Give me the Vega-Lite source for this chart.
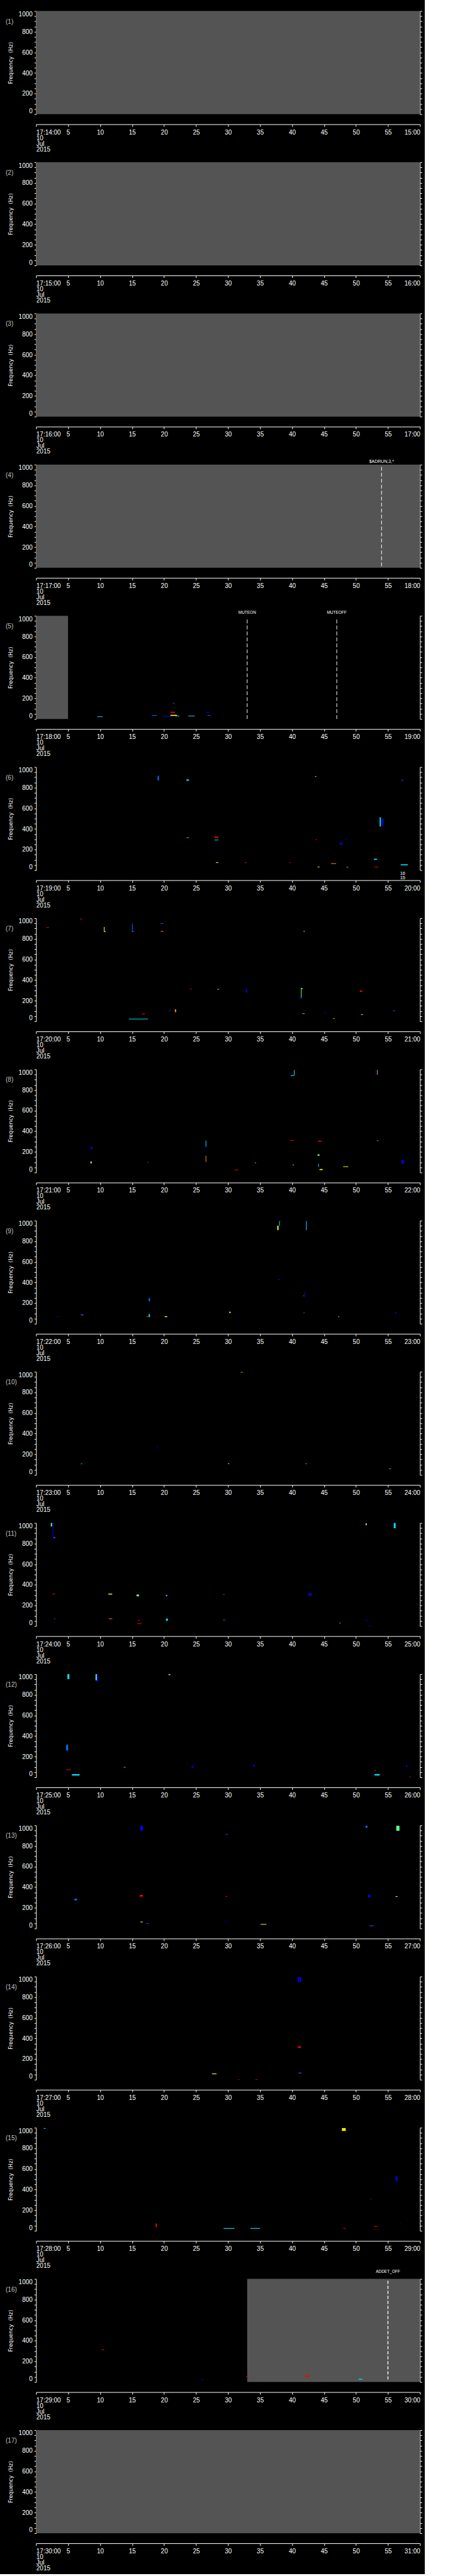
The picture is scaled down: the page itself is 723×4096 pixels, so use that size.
{
"$schema":"https://vega.github.io/schema/vega-lite/v6.json",
"padding":{"left":8.3,"top":16.6,"right":4,"bottom":4},
"background":"#000000",
"config":{"view":{"stroke":null},"font":"Liberation Sans",
 "axis":{"domainColor":"#ffffff","tickColor":"#ffffff","labelColor":"#ffffff","titleColor":"#ffffff","grid":false,"labelFont":"Liberation Sans","labelFontSize":10,"domainWidth":1,"tickWidth":1}},
"datasets":{
"gray":[{"p":1,"t0":0,"t1":60,"f0":0,"f1":1000},{"p":2,"t0":0,"t1":60,"f0":0,"f1":1000},{"p":3,"t0":0,"t1":60,"f0":0,"f1":1000},{"p":4,"t0":0,"t1":60,"f0":0,"f1":1000},{"p":5,"t0":0,"t1":5,"f0":0,"f1":1000},{"p":16,"t0":33,"t1":60,"f0":0,"f1":1000},{"p":17,"t0":0,"t1":60,"f0":0,"f1":1000}],
"events":[{"p":4,"t":54,"label":"$ADRUN,3,*"},{"p":5,"t":33,"label":"MUTEON"},{"p":5,"t":47,"label":"MUTEOFF"},{"p":16,"t":55,"label":"ADDET_OFF"}],
"notes":[{"p":6,"t":57.3,"label":"16\n15"}],
"panels":[{"p":1,"name":"(1)"},{"p":2,"name":"(2)"},{"p":3,"name":"(3)"},{"p":4,"name":"(4)"},{"p":5,"name":"(5)"},{"p":6,"name":"(6)"},{"p":7,"name":"(7)"},{"p":8,"name":"(8)"},{"p":9,"name":"(9)"},{"p":10,"name":"(10)"},{"p":11,"name":"(11)"},{"p":12,"name":"(12)"},{"p":13,"name":"(13)"},{"p":14,"name":"(14)"},{"p":15,"name":"(15)"},{"p":16,"name":"(16)"},{"p":17,"name":"(17)"}],
"specks":[
{"p":5,"t0":9.6,"t1":10.4,"f0":19,"f1":25,"v":3},{"p":5,"t0":18.1,"t1":18.9,"f0":31,"f1":37,"v":2},{"p":5,"t0":19.9,"t1":21.2,"f0":22,"f1":29,"v":1},{"p":5,"t0":21.0,"t1":22.0,"f0":30,"f1":40,"v":5},{"p":5,"t0":21.8,"t1":22.4,"f0":26,"f1":32,"v":3},{"p":5,"t0":21.0,"t1":21.7,"f0":59,"f1":70,"v":7},{"p":5,"t0":21.4,"t1":21.6,"f0":149,"f1":156,"v":2},{"p":5,"t0":23.8,"t1":24.8,"f0":26,"f1":32,"v":3},{"p":5,"t0":26.7,"t1":27.0,"f0":59,"f1":70,"v":1},{"p":5,"t0":26.8,"t1":27.3,"f0":32,"f1":37,"v":2},
{"p":6,"t0":19.0,"t1":19.2,"f0":869,"f1":915,"v":2},{"p":6,"t0":23.5,"t1":23.9,"f0":866,"f1":880,"v":3},{"p":6,"t0":43.6,"t1":43.8,"f0":905,"f1":912,"v":4},{"p":6,"t0":57.1,"t1":57.4,"f0":869,"f1":875,"v":2},{"p":6,"t0":53.7,"t1":53.9,"f0":423,"f1":512,"v":3},{"p":6,"t0":54.1,"t1":54.3,"f0":423,"f1":500,"v":1},{"p":6,"t0":23.5,"t1":23.9,"f0":312,"f1":318,"v":3},{"p":6,"t0":27.9,"t1":28.5,"f0":312,"f1":325,"v":7},{"p":6,"t0":27.9,"t1":28.5,"f0":289,"f1":295,"v":3},{"p":6,"t0":43.7,"t1":43.9,"f0":293,"f1":299,"v":7},{"p":6,"t0":48.4,"t1":48.6,"f0":293,"f1":299,"v":1},{"p":6,"t0":47.5,"t1":47.9,"f0":247,"f1":266,"v":1},{"p":6,"t0":28.1,"t1":28.5,"f0":70,"f1":76,"v":5},{"p":6,"t0":32.6,"t1":32.9,"f0":70,"f1":76,"v":7},{"p":6,"t0":39.6,"t1":39.8,"f0":70,"f1":76,"v":7},{"p":6,"t0":46.1,"t1":46.9,"f0":61,"f1":67,"v":6},{"p":6,"t0":44.0,"t1":44.3,"f0":27,"f1":33,"v":5},{"p":6,"t0":48.5,"t1":48.8,"f0":26,"f1":32,"v":3},{"p":6,"t0":52.8,"t1":53.3,"f0":100,"f1":111,"v":3},{"p":6,"t0":52.9,"t1":53.5,"f0":27,"f1":33,"v":7},{"p":6,"t0":57.0,"t1":58.1,"f0":47,"f1":57,"v":3},
{"p":7,"t0":1.6,"t1":2.0,"f0":907,"f1":913,"v":7},{"p":7,"t0":6.9,"t1":7.2,"f0":989,"f1":996,"v":7},{"p":7,"t0":10.6,"t1":10.7,"f0":869,"f1":915,"v":5},{"p":7,"t0":10.6,"t1":10.9,"f0":866,"f1":873,"v":4},{"p":7,"t0":15.0,"t1":15.1,"f0":869,"f1":948,"v":2},{"p":7,"t0":15.0,"t1":15.3,"f0":866,"f1":873,"v":2},{"p":7,"t0":19.5,"t1":19.9,"f0":945,"f1":951,"v":2},{"p":7,"t0":19.5,"t1":19.9,"f0":869,"f1":875,"v":6},{"p":7,"t0":41.8,"t1":42.0,"f0":869,"f1":875,"v":5},{"p":7,"t0":24.0,"t1":24.3,"f0":310,"f1":316,"v":7},{"p":7,"t0":28.3,"t1":28.6,"f0":307,"f1":314,"v":6},{"p":7,"t0":32.8,"t1":33.0,"f0":279,"f1":310,"v":1},{"p":7,"t0":41.4,"t1":41.5,"f0":226,"f1":318,"v":4},{"p":7,"t0":41.4,"t1":41.7,"f0":315,"f1":322,"v":5},{"p":7,"t0":41.0,"t1":41.5,"f0":222,"f1":229,"v":1},{"p":7,"t0":50.6,"t1":51.0,"f0":286,"f1":299,"v":7},{"p":7,"t0":21.7,"t1":21.9,"f0":89,"f1":117,"v":6},{"p":7,"t0":20.8,"t1":21.0,"f0":100,"f1":106,"v":2},{"p":7,"t0":16.6,"t1":17.0,"f0":69,"f1":77,"v":7},{"p":7,"t0":14.5,"t1":17.5,"f0":20,"f1":26,"v":3},{"p":7,"t0":41.6,"t1":42.0,"f0":72,"f1":78,"v":3},{"p":7,"t0":45.0,"t1":45.3,"f0":78,"f1":84,"v":1},{"p":7,"t0":50.8,"t1":51.1,"f0":63,"f1":69,"v":5},{"p":7,"t0":46.4,"t1":46.7,"f0":23,"f1":29,"v":6},{"p":7,"t0":55.8,"t1":56.1,"f0":100,"f1":106,"v":2},
{"p":8,"t0":40.3,"t1":40.4,"f0":940,"f1":995,"v":3},{"p":8,"t0":39.8,"t1":40.3,"f0":937,"f1":944,"v":3},{"p":8,"t0":53.1,"t1":53.2,"f0":947,"f1":995,"v":1},{"p":8,"t0":53.3,"t1":53.4,"f0":947,"f1":995,"v":6},{"p":8,"t0":39.7,"t1":40.3,"f0":309,"f1":315,"v":7},{"p":8,"t0":44.1,"t1":44.6,"f0":299,"f1":309,"v":7},{"p":8,"t0":53.3,"t1":53.5,"f0":306,"f1":312,"v":6},{"p":8,"t0":26.5,"t1":26.6,"f0":250,"f1":309,"v":3},{"p":8,"t0":26.5,"t1":26.8,"f0":247,"f1":253,"v":1},{"p":8,"t0":8.5,"t1":8.8,"f0":226,"f1":246,"v":1},{"p":8,"t0":44.0,"t1":44.3,"f0":162,"f1":177,"v":4},{"p":8,"t0":26.5,"t1":26.6,"f0":103,"f1":163,"v":6},{"p":8,"t0":8.5,"t1":8.7,"f0":89,"f1":107,"v":5},{"p":8,"t0":17.4,"t1":17.6,"f0":96,"f1":102,"v":2},{"p":8,"t0":34.2,"t1":34.4,"f0":91,"f1":97,"v":3},{"p":8,"t0":40.1,"t1":40.3,"f0":70,"f1":76,"v":4},{"p":8,"t0":44.1,"t1":44.2,"f0":54,"f1":86,"v":3},{"p":8,"t0":31.0,"t1":31.6,"f0":23,"f1":29,"v":7},{"p":8,"t0":44.3,"t1":44.8,"f0":24,"f1":34,"v":5},{"p":8,"t0":48.0,"t1":48.8,"f0":54,"f1":60,"v":5},{"p":8,"t0":57.1,"t1":57.5,"f0":89,"f1":120,"v":1},
{"p":9,"t0":37.7,"t1":37.9,"f0":908,"f1":950,"v":5},{"p":9,"t0":38.0,"t1":38.1,"f0":950,"f1":995,"v":3},{"p":9,"t0":38.0,"t1":38.2,"f0":990,"f1":996,"v":7},{"p":9,"t0":42.2,"t1":42.3,"f0":908,"f1":995,"v":3},{"p":9,"t0":37.8,"t1":38.1,"f0":426,"f1":432,"v":1},{"p":9,"t0":41.9,"t1":42.0,"f0":260,"f1":309,"v":1},{"p":9,"t0":41.7,"t1":41.9,"f0":268,"f1":274,"v":7},{"p":9,"t0":17.6,"t1":17.8,"f0":217,"f1":250,"v":2},{"p":9,"t0":3.2,"t1":3.6,"f0":67,"f1":72,"v":1},{"p":9,"t0":7.0,"t1":7.4,"f0":81,"f1":90,"v":2},{"p":9,"t0":17.2,"t1":17.6,"f0":64,"f1":70,"v":7},{"p":9,"t0":17.6,"t1":17.8,"f0":64,"f1":94,"v":3},{"p":9,"t0":20.1,"t1":20.5,"f0":64,"f1":73,"v":5},{"p":9,"t0":30.2,"t1":30.4,"f0":103,"f1":117,"v":5},{"p":9,"t0":41.8,"t1":42.0,"f0":103,"f1":109,"v":2},{"p":9,"t0":47.2,"t1":47.4,"f0":64,"f1":70,"v":4},{"p":9,"t0":56.1,"t1":56.3,"f0":97,"f1":111,"v":1},
{"p":10,"t0":32.0,"t1":32.3,"f0":992,"f1":998,"v":6},{"p":10,"t0":18.8,"t1":19.1,"f0":272,"f1":277,"v":1},{"p":10,"t0":7.0,"t1":7.2,"f0":104,"f1":110,"v":3},{"p":10,"t0":30.0,"t1":30.2,"f0":106,"f1":112,"v":5},{"p":10,"t0":42.1,"t1":42.3,"f0":105,"f1":111,"v":3},{"p":10,"t0":55.2,"t1":55.4,"f0":57,"f1":63,"v":4},
{"p":11,"t0":2.3,"t1":2.5,"f0":966,"f1":1000,"v":4},{"p":11,"t0":2.6,"t1":2.7,"f0":860,"f1":1000,"v":1},{"p":11,"t0":2.7,"t1":3.0,"f0":853,"f1":863,"v":2},{"p":11,"t0":51.5,"t1":51.7,"f0":978,"f1":996,"v":4},{"p":11,"t0":55.9,"t1":56.2,"f0":949,"f1":1000,"v":3},{"p":11,"t0":2.5,"t1":3.0,"f0":310,"f1":316,"v":7},{"p":11,"t0":11.3,"t1":11.9,"f0":306,"f1":315,"v":5},{"p":11,"t0":15.7,"t1":16.1,"f0":289,"f1":306,"v":4},{"p":11,"t0":20.3,"t1":20.5,"f0":289,"f1":303,"v":3},{"p":11,"t0":29.2,"t1":29.5,"f0":303,"f1":309,"v":7},{"p":11,"t0":42.6,"t1":43.1,"f0":298,"f1":318,"v":1},{"p":11,"t0":2.8,"t1":3.0,"f0":68,"f1":74,"v":2},{"p":11,"t0":11.4,"t1":11.9,"f0":68,"f1":74,"v":6},{"p":11,"t0":15.9,"t1":16.2,"f0":51,"f1":57,"v":7},{"p":11,"t0":15.8,"t1":16.5,"f0":20,"f1":26,"v":7},{"p":11,"t0":20.3,"t1":20.6,"f0":51,"f1":73,"v":3},{"p":11,"t0":29.2,"t1":29.6,"f0":55,"f1":61,"v":2},{"p":11,"t0":47.4,"t1":47.6,"f0":26,"f1":32,"v":3},{"p":11,"t0":51.5,"t1":51.8,"f0":51,"f1":57,"v":1},{"p":11,"t0":52.0,"t1":52.4,"f0":1,"f1":6,"v":1},
{"p":12,"t0":4.9,"t1":5.2,"f0":952,"f1":1000,"v":3},{"p":12,"t0":9.3,"t1":9.5,"f0":940,"f1":1000,"v":4},{"p":12,"t0":9.5,"t1":9.7,"f0":926,"f1":995,"v":1},{"p":12,"t0":20.7,"t1":21.0,"f0":991,"f1":999,"v":5},{"p":12,"t0":4.7,"t1":5.0,"f0":260,"f1":315,"v":2},{"p":12,"t0":4.7,"t1":5.4,"f0":70,"f1":76,"v":7},{"p":12,"t0":5.6,"t1":6.8,"f0":17,"f1":31,"v":3},{"p":12,"t0":13.7,"t1":14.0,"f0":94,"f1":100,"v":3},{"p":12,"t0":24.3,"t1":24.6,"f0":94,"f1":111,"v":1},{"p":12,"t0":33.9,"t1":34.2,"f0":105,"f1":122,"v":1},{"p":12,"t0":52.9,"t1":53.1,"f0":62,"f1":68,"v":2},{"p":12,"t0":52.9,"t1":53.7,"f0":17,"f1":31,"v":3},{"p":12,"t0":57.8,"t1":58.0,"f0":99,"f1":116,"v":1},{"p":12,"t0":58.3,"t1":58.6,"f0":0,"f1":4,"v":7},
{"p":13,"t0":16.3,"t1":16.7,"f0":947,"f1":996,"v":1},{"p":13,"t0":29.6,"t1":30.0,"f0":908,"f1":913,"v":2},{"p":13,"t0":51.5,"t1":51.8,"f0":976,"f1":996,"v":2},{"p":13,"t0":56.3,"t1":56.8,"f0":947,"f1":996,"v":4},{"p":13,"t0":6.0,"t1":6.4,"f0":272,"f1":289,"v":2},{"p":13,"t0":16.2,"t1":16.7,"f0":309,"f1":326,"v":7},{"p":13,"t0":29.6,"t1":29.9,"f0":308,"f1":314,"v":7},{"p":13,"t0":51.9,"t1":52.3,"f0":301,"f1":326,"v":1},{"p":13,"t0":56.2,"t1":56.5,"f0":306,"f1":313,"v":5},{"p":13,"t0":16.3,"t1":16.7,"f0":60,"f1":66,"v":5},{"p":13,"t0":17.2,"t1":17.6,"f0":46,"f1":51,"v":2},{"p":13,"t0":29.6,"t1":29.9,"f0":63,"f1":69,"v":1},{"p":13,"t0":35.1,"t1":36.0,"f0":37,"f1":43,"v":5},{"p":13,"t0":52.1,"t1":52.8,"f0":23,"f1":29,"v":2},
{"p":14,"t0":40.9,"t1":41.1,"f0":942,"f1":998,"v":1},{"p":14,"t0":41.2,"t1":41.4,"f0":942,"f1":998,"v":1},{"p":14,"t0":40.9,"t1":41.4,"f0":309,"f1":323,"v":7},{"p":14,"t0":49.9,"t1":50.0,"f0":308,"f1":314,"v":1},{"p":14,"t0":41.0,"t1":41.5,"f0":61,"f1":68,"v":2},{"p":14,"t0":27.5,"t1":28.2,"f0":53,"f1":60,"v":5},{"p":14,"t0":31.6,"t1":31.8,"f0":0,"f1":5,"v":7},{"p":14,"t0":34.3,"t1":34.6,"f0":0,"f1":5,"v":7},
{"p":15,"t0":1.2,"t1":1.5,"f0":990,"f1":996,"v":3},{"p":15,"t0":47.8,"t1":48.4,"f0":969,"f1":996,"v":5},{"p":15,"t0":56.2,"t1":56.5,"f0":483,"f1":527,"v":1},{"p":15,"t0":52.3,"t1":52.4,"f0":303,"f1":309,"v":7},{"p":15,"t0":18.7,"t1":18.9,"f0":37,"f1":71,"v":7},{"p":15,"t0":29.3,"t1":31.0,"f0":20,"f1":27,"v":3},{"p":15,"t0":33.5,"t1":35.0,"f0":20,"f1":27,"v":3},{"p":15,"t0":48.0,"t1":48.4,"f0":21,"f1":27,"v":7},{"p":15,"t0":52.8,"t1":53.4,"f0":40,"f1":46,"v":7},{"p":15,"t0":56.8,"t1":57.0,"f0":63,"f1":71,"v":1},
{"p":16,"t0":10.2,"t1":10.6,"f0":309,"f1":316,"v":7},{"p":16,"t0":25.8,"t1":26.1,"f0":20,"f1":28,"v":1},{"p":16,"t0":32.8,"t1":33.1,"f0":48,"f1":54,"v":7},{"p":16,"t0":42.0,"t1":42.8,"f0":50,"f1":63,"v":7},{"p":16,"t0":50.4,"t1":51.0,"f0":23,"f1":31,"v":3}
]},
"spacing":76.4,
"bounds":"flush",
"vconcat":[
{"width":610,"height":164,"resolve":{"axis":{"x":"independent","y":"independent"}},"layer":[
 {"data":{"name":"gray"},"transform":[{"filter":"datum.p==1"}],"mark":{"type":"rect","color":"#545454"},"encoding":{"x":{"field":"t0","type":"quantitative","scale":{"domain":[0,60],"nice":false,"zero":false},"axis":{"orient":"bottom","values":[0,5,10,15,20,25,30,35,40,45,50,55,60],"labelExpr":"datum.value==0?['17:14:00','10','Jul','2015']:datum.value==60?'15:00':datum.label","offset":16,"tickSize":3.5,"labelPadding":4,"labelLineHeight":9,"labelOverlap":false,"title":null}},"x2":{"field":"t1"},"y":{"field":"f0","type":"quantitative","scale":{"domain":[0,1000],"nice":false},"axis":{"orient":"left","values":[0,50,100,150,200,250,300,350,400,450,500,550,600,650,700,750,800,850,900,950,1000],"format":"d","labelExpr":"datum.value%200==0?datum.label:''","labelFlush":true,"labelOverlap":false,"tickSize":3,"labelPadding":3,"title":"Frequency\u00a0\u00a0(Hz)","titleFont":"DejaVu Sans","titleFontSize":8.5,"titleFontWeight":"normal","titleX":-40.4,"titleY":82,"titleAngle":-90,"titleAlign":"center","titleBaseline":"middle"}},"y2":{"field":"f1"}}},
 {"data":{"name":"specks"},"transform":[{"filter":"datum.p==1"}],"mark":{"type":"rect"},"encoding":{"x":{"field":"t0","type":"quantitative","axis":null},"x2":{"field":"t1"},"y":{"field":"f0","type":"quantitative","axis":{"orient":"right","values":[0,50,100,150,200,250,300,350,400,450,500,550,600,650,700,750,800,850,900,950,1000],"labels":false,"tickSize":3,"title":null}},"y2":{"field":"f1"},"color":{"field":"v","type":"ordinal","scale":{"domain":[1,2,3,4,5,6,7],"range":["#0000ff","#0070ff","#00e0ff","#60ff90","#ffff00","#ff9000","#ff0000"]},"legend":null}}},
 {"data":{"name":"panels"},"transform":[{"filter":"datum.p==1"}],"mark":{"type":"text","align":"left","baseline":"middle","fontSize":10,"color":"#c0c0c0"},"encoding":{"x":{"datum":-4.75,"type":"quantitative","axis":null},"y":{"datum":896,"type":"quantitative","axis":null},"text":{"field":"name"}}}
]},
{"width":610,"height":164,"resolve":{"axis":{"x":"independent","y":"independent"}},"layer":[
 {"data":{"name":"gray"},"transform":[{"filter":"datum.p==2"}],"mark":{"type":"rect","color":"#545454"},"encoding":{"x":{"field":"t0","type":"quantitative","scale":{"domain":[0,60],"nice":false,"zero":false},"axis":{"orient":"bottom","values":[0,5,10,15,20,25,30,35,40,45,50,55,60],"labelExpr":"datum.value==0?['17:15:00','10','Jul','2015']:datum.value==60?'16:00':datum.label","offset":16,"tickSize":3.5,"labelPadding":4,"labelLineHeight":9,"labelOverlap":false,"title":null}},"x2":{"field":"t1"},"y":{"field":"f0","type":"quantitative","scale":{"domain":[0,1000],"nice":false},"axis":{"orient":"left","values":[0,50,100,150,200,250,300,350,400,450,500,550,600,650,700,750,800,850,900,950,1000],"format":"d","labelExpr":"datum.value%200==0?datum.label:''","labelFlush":true,"labelOverlap":false,"tickSize":3,"labelPadding":3,"title":"Frequency\u00a0\u00a0(Hz)","titleFont":"DejaVu Sans","titleFontSize":8.5,"titleFontWeight":"normal","titleX":-40.4,"titleY":82,"titleAngle":-90,"titleAlign":"center","titleBaseline":"middle"}},"y2":{"field":"f1"}}},
 {"data":{"name":"specks"},"transform":[{"filter":"datum.p==2"}],"mark":{"type":"rect"},"encoding":{"x":{"field":"t0","type":"quantitative","axis":null},"x2":{"field":"t1"},"y":{"field":"f0","type":"quantitative","axis":{"orient":"right","values":[0,50,100,150,200,250,300,350,400,450,500,550,600,650,700,750,800,850,900,950,1000],"labels":false,"tickSize":3,"title":null}},"y2":{"field":"f1"},"color":{"field":"v","type":"ordinal","scale":{"domain":[1,2,3,4,5,6,7],"range":["#0000ff","#0070ff","#00e0ff","#60ff90","#ffff00","#ff9000","#ff0000"]},"legend":null}}},
 {"data":{"name":"panels"},"transform":[{"filter":"datum.p==2"}],"mark":{"type":"text","align":"left","baseline":"middle","fontSize":10,"color":"#c0c0c0"},"encoding":{"x":{"datum":-4.75,"type":"quantitative","axis":null},"y":{"datum":896,"type":"quantitative","axis":null},"text":{"field":"name"}}}
]},
{"width":610,"height":164,"resolve":{"axis":{"x":"independent","y":"independent"}},"layer":[
 {"data":{"name":"gray"},"transform":[{"filter":"datum.p==3"}],"mark":{"type":"rect","color":"#545454"},"encoding":{"x":{"field":"t0","type":"quantitative","scale":{"domain":[0,60],"nice":false,"zero":false},"axis":{"orient":"bottom","values":[0,5,10,15,20,25,30,35,40,45,50,55,60],"labelExpr":"datum.value==0?['17:16:00','10','Jul','2015']:datum.value==60?'17:00':datum.label","offset":16,"tickSize":3.5,"labelPadding":4,"labelLineHeight":9,"labelOverlap":false,"title":null}},"x2":{"field":"t1"},"y":{"field":"f0","type":"quantitative","scale":{"domain":[0,1000],"nice":false},"axis":{"orient":"left","values":[0,50,100,150,200,250,300,350,400,450,500,550,600,650,700,750,800,850,900,950,1000],"format":"d","labelExpr":"datum.value%200==0?datum.label:''","labelFlush":true,"labelOverlap":false,"tickSize":3,"labelPadding":3,"title":"Frequency\u00a0\u00a0(Hz)","titleFont":"DejaVu Sans","titleFontSize":8.5,"titleFontWeight":"normal","titleX":-40.4,"titleY":82,"titleAngle":-90,"titleAlign":"center","titleBaseline":"middle"}},"y2":{"field":"f1"}}},
 {"data":{"name":"specks"},"transform":[{"filter":"datum.p==3"}],"mark":{"type":"rect"},"encoding":{"x":{"field":"t0","type":"quantitative","axis":null},"x2":{"field":"t1"},"y":{"field":"f0","type":"quantitative","axis":{"orient":"right","values":[0,50,100,150,200,250,300,350,400,450,500,550,600,650,700,750,800,850,900,950,1000],"labels":false,"tickSize":3,"title":null}},"y2":{"field":"f1"},"color":{"field":"v","type":"ordinal","scale":{"domain":[1,2,3,4,5,6,7],"range":["#0000ff","#0070ff","#00e0ff","#60ff90","#ffff00","#ff9000","#ff0000"]},"legend":null}}},
 {"data":{"name":"panels"},"transform":[{"filter":"datum.p==3"}],"mark":{"type":"text","align":"left","baseline":"middle","fontSize":10,"color":"#c0c0c0"},"encoding":{"x":{"datum":-4.75,"type":"quantitative","axis":null},"y":{"datum":896,"type":"quantitative","axis":null},"text":{"field":"name"}}}
]},
{"width":610,"height":164,"resolve":{"axis":{"x":"independent","y":"independent"}},"layer":[
 {"data":{"name":"gray"},"transform":[{"filter":"datum.p==4"}],"mark":{"type":"rect","color":"#545454"},"encoding":{"x":{"field":"t0","type":"quantitative","scale":{"domain":[0,60],"nice":false,"zero":false},"axis":{"orient":"bottom","values":[0,5,10,15,20,25,30,35,40,45,50,55,60],"labelExpr":"datum.value==0?['17:17:00','10','Jul','2015']:datum.value==60?'18:00':datum.label","offset":16,"tickSize":3.5,"labelPadding":4,"labelLineHeight":9,"labelOverlap":false,"title":null}},"x2":{"field":"t1"},"y":{"field":"f0","type":"quantitative","scale":{"domain":[0,1000],"nice":false},"axis":{"orient":"left","values":[0,50,100,150,200,250,300,350,400,450,500,550,600,650,700,750,800,850,900,950,1000],"format":"d","labelExpr":"datum.value%200==0?datum.label:''","labelFlush":true,"labelOverlap":false,"tickSize":3,"labelPadding":3,"title":"Frequency\u00a0\u00a0(Hz)","titleFont":"DejaVu Sans","titleFontSize":8.5,"titleFontWeight":"normal","titleX":-40.4,"titleY":82,"titleAngle":-90,"titleAlign":"center","titleBaseline":"middle"}},"y2":{"field":"f1"}}},
 {"data":{"name":"specks"},"transform":[{"filter":"datum.p==4"}],"mark":{"type":"rect"},"encoding":{"x":{"field":"t0","type":"quantitative","axis":null},"x2":{"field":"t1"},"y":{"field":"f0","type":"quantitative","axis":{"orient":"right","values":[0,50,100,150,200,250,300,350,400,450,500,550,600,650,700,750,800,850,900,950,1000],"labels":false,"tickSize":3,"title":null}},"y2":{"field":"f1"},"color":{"field":"v","type":"ordinal","scale":{"domain":[1,2,3,4,5,6,7],"range":["#0000ff","#0070ff","#00e0ff","#60ff90","#ffff00","#ff9000","#ff0000"]},"legend":null}}},
 {"data":{"name":"events"},"transform":[{"filter":"datum.p==4"}],"mark":{"type":"rule","color":"#ffffff","strokeDash":[6,3.5],"strokeWidth":1},"encoding":{"x":{"field":"t","type":"quantitative","axis":null},"y":{"datum":15,"type":"quantitative","axis":null},"y2":{"datum":1000}}},
 {"data":{"name":"events"},"transform":[{"filter":"datum.p==4"}],"mark":{"type":"text","color":"#ffffff","fontSize":7,"baseline":"alphabetic","dy":-3},"encoding":{"x":{"field":"t","type":"quantitative","axis":null},"y":{"datum":1000,"type":"quantitative","axis":null},"text":{"field":"label"}}},
 {"data":{"name":"panels"},"transform":[{"filter":"datum.p==4"}],"mark":{"type":"text","align":"left","baseline":"middle","fontSize":10,"color":"#c0c0c0"},"encoding":{"x":{"datum":-4.75,"type":"quantitative","axis":null},"y":{"datum":896,"type":"quantitative","axis":null},"text":{"field":"name"}}}
]},
{"width":610,"height":164,"resolve":{"axis":{"x":"independent","y":"independent"}},"layer":[
 {"data":{"name":"gray"},"transform":[{"filter":"datum.p==5"}],"mark":{"type":"rect","color":"#545454"},"encoding":{"x":{"field":"t0","type":"quantitative","scale":{"domain":[0,60],"nice":false,"zero":false},"axis":{"orient":"bottom","values":[0,5,10,15,20,25,30,35,40,45,50,55,60],"labelExpr":"datum.value==0?['17:18:00','10','Jul','2015']:datum.value==60?'19:00':datum.label","offset":16,"tickSize":3.5,"labelPadding":4,"labelLineHeight":9,"labelOverlap":false,"title":null}},"x2":{"field":"t1"},"y":{"field":"f0","type":"quantitative","scale":{"domain":[0,1000],"nice":false},"axis":{"orient":"left","values":[0,50,100,150,200,250,300,350,400,450,500,550,600,650,700,750,800,850,900,950,1000],"format":"d","labelExpr":"datum.value%200==0?datum.label:''","labelFlush":true,"labelOverlap":false,"tickSize":3,"labelPadding":3,"title":"Frequency\u00a0\u00a0(Hz)","titleFont":"DejaVu Sans","titleFontSize":8.5,"titleFontWeight":"normal","titleX":-40.4,"titleY":82,"titleAngle":-90,"titleAlign":"center","titleBaseline":"middle"}},"y2":{"field":"f1"}}},
 {"data":{"name":"specks"},"transform":[{"filter":"datum.p==5"}],"mark":{"type":"rect"},"encoding":{"x":{"field":"t0","type":"quantitative","axis":null},"x2":{"field":"t1"},"y":{"field":"f0","type":"quantitative","axis":{"orient":"right","values":[0,50,100,150,200,250,300,350,400,450,500,550,600,650,700,750,800,850,900,950,1000],"labels":false,"tickSize":3,"title":null}},"y2":{"field":"f1"},"color":{"field":"v","type":"ordinal","scale":{"domain":[1,2,3,4,5,6,7],"range":["#0000ff","#0070ff","#00e0ff","#60ff90","#ffff00","#ff9000","#ff0000"]},"legend":null}}},
 {"data":{"name":"events"},"transform":[{"filter":"datum.p==5"}],"mark":{"type":"rule","color":"#ffffff","strokeDash":[6,3.5],"strokeWidth":1},"encoding":{"x":{"field":"t","type":"quantitative","axis":null},"y":{"datum":0,"type":"quantitative","axis":null},"y2":{"datum":980}}},
 {"data":{"name":"events"},"transform":[{"filter":"datum.p==5"}],"mark":{"type":"text","color":"#ffffff","fontSize":6.5,"baseline":"alphabetic","dy":-3.3},"encoding":{"x":{"field":"t","type":"quantitative","axis":null},"y":{"datum":1000,"type":"quantitative","axis":null},"text":{"field":"label"}}},
 {"data":{"name":"panels"},"transform":[{"filter":"datum.p==5"}],"mark":{"type":"text","align":"left","baseline":"middle","fontSize":10,"color":"#c0c0c0"},"encoding":{"x":{"datum":-4.75,"type":"quantitative","axis":null},"y":{"datum":896,"type":"quantitative","axis":null},"text":{"field":"name"}}}
]},
{"width":610,"height":164,"resolve":{"axis":{"x":"independent","y":"independent"}},"layer":[
 {"data":{"name":"gray"},"transform":[{"filter":"datum.p==6"}],"mark":{"type":"rect","color":"#545454"},"encoding":{"x":{"field":"t0","type":"quantitative","scale":{"domain":[0,60],"nice":false,"zero":false},"axis":{"orient":"bottom","values":[0,5,10,15,20,25,30,35,40,45,50,55,60],"labelExpr":"datum.value==0?['17:19:00','10','Jul','2015']:datum.value==60?'20:00':datum.label","offset":16,"tickSize":3.5,"labelPadding":4,"labelLineHeight":9,"labelOverlap":false,"title":null}},"x2":{"field":"t1"},"y":{"field":"f0","type":"quantitative","scale":{"domain":[0,1000],"nice":false},"axis":{"orient":"left","values":[0,50,100,150,200,250,300,350,400,450,500,550,600,650,700,750,800,850,900,950,1000],"format":"d","labelExpr":"datum.value%200==0?datum.label:''","labelFlush":true,"labelOverlap":false,"tickSize":3,"labelPadding":3,"title":"Frequency\u00a0\u00a0(Hz)","titleFont":"DejaVu Sans","titleFontSize":8.5,"titleFontWeight":"normal","titleX":-40.4,"titleY":82,"titleAngle":-90,"titleAlign":"center","titleBaseline":"middle"}},"y2":{"field":"f1"}}},
 {"data":{"name":"specks"},"transform":[{"filter":"datum.p==6"}],"mark":{"type":"rect"},"encoding":{"x":{"field":"t0","type":"quantitative","axis":null},"x2":{"field":"t1"},"y":{"field":"f0","type":"quantitative","axis":{"orient":"right","values":[0,50,100,150,200,250,300,350,400,450,500,550,600,650,700,750,800,850,900,950,1000],"labels":false,"tickSize":3,"title":null}},"y2":{"field":"f1"},"color":{"field":"v","type":"ordinal","scale":{"domain":[1,2,3,4,5,6,7],"range":["#0000ff","#0070ff","#00e0ff","#60ff90","#ffff00","#ff9000","#ff0000"]},"legend":null}}},
 {"data":{"name":"notes"},"transform":[{"filter":"datum.p==6"}],"mark":{"type":"text","color":"#ffffff","fontSize":7.5,"lineHeight":7,"lineBreak":"\n","align":"center","baseline":"top","dy":1},"encoding":{"x":{"field":"t","type":"quantitative","axis":null},"y":{"datum":0,"type":"quantitative","axis":null},"text":{"field":"label"}}},
 {"data":{"name":"panels"},"transform":[{"filter":"datum.p==6"}],"mark":{"type":"text","align":"left","baseline":"middle","fontSize":10,"color":"#c0c0c0"},"encoding":{"x":{"datum":-4.75,"type":"quantitative","axis":null},"y":{"datum":896,"type":"quantitative","axis":null},"text":{"field":"name"}}}
]},
{"width":610,"height":164,"resolve":{"axis":{"x":"independent","y":"independent"}},"layer":[
 {"data":{"name":"gray"},"transform":[{"filter":"datum.p==7"}],"mark":{"type":"rect","color":"#545454"},"encoding":{"x":{"field":"t0","type":"quantitative","scale":{"domain":[0,60],"nice":false,"zero":false},"axis":{"orient":"bottom","values":[0,5,10,15,20,25,30,35,40,45,50,55,60],"labelExpr":"datum.value==0?['17:20:00','10','Jul','2015']:datum.value==60?'21:00':datum.label","offset":16,"tickSize":3.5,"labelPadding":4,"labelLineHeight":9,"labelOverlap":false,"title":null}},"x2":{"field":"t1"},"y":{"field":"f0","type":"quantitative","scale":{"domain":[0,1000],"nice":false},"axis":{"orient":"left","values":[0,50,100,150,200,250,300,350,400,450,500,550,600,650,700,750,800,850,900,950,1000],"format":"d","labelExpr":"datum.value%200==0?datum.label:''","labelFlush":true,"labelOverlap":false,"tickSize":3,"labelPadding":3,"title":"Frequency\u00a0\u00a0(Hz)","titleFont":"DejaVu Sans","titleFontSize":8.5,"titleFontWeight":"normal","titleX":-40.4,"titleY":82,"titleAngle":-90,"titleAlign":"center","titleBaseline":"middle"}},"y2":{"field":"f1"}}},
 {"data":{"name":"specks"},"transform":[{"filter":"datum.p==7"}],"mark":{"type":"rect"},"encoding":{"x":{"field":"t0","type":"quantitative","axis":null},"x2":{"field":"t1"},"y":{"field":"f0","type":"quantitative","axis":{"orient":"right","values":[0,50,100,150,200,250,300,350,400,450,500,550,600,650,700,750,800,850,900,950,1000],"labels":false,"tickSize":3,"title":null}},"y2":{"field":"f1"},"color":{"field":"v","type":"ordinal","scale":{"domain":[1,2,3,4,5,6,7],"range":["#0000ff","#0070ff","#00e0ff","#60ff90","#ffff00","#ff9000","#ff0000"]},"legend":null}}},
 {"data":{"name":"panels"},"transform":[{"filter":"datum.p==7"}],"mark":{"type":"text","align":"left","baseline":"middle","fontSize":10,"color":"#c0c0c0"},"encoding":{"x":{"datum":-4.75,"type":"quantitative","axis":null},"y":{"datum":896,"type":"quantitative","axis":null},"text":{"field":"name"}}}
]},
{"width":610,"height":164,"resolve":{"axis":{"x":"independent","y":"independent"}},"layer":[
 {"data":{"name":"gray"},"transform":[{"filter":"datum.p==8"}],"mark":{"type":"rect","color":"#545454"},"encoding":{"x":{"field":"t0","type":"quantitative","scale":{"domain":[0,60],"nice":false,"zero":false},"axis":{"orient":"bottom","values":[0,5,10,15,20,25,30,35,40,45,50,55,60],"labelExpr":"datum.value==0?['17:21:00','10','Jul','2015']:datum.value==60?'22:00':datum.label","offset":16,"tickSize":3.5,"labelPadding":4,"labelLineHeight":9,"labelOverlap":false,"title":null}},"x2":{"field":"t1"},"y":{"field":"f0","type":"quantitative","scale":{"domain":[0,1000],"nice":false},"axis":{"orient":"left","values":[0,50,100,150,200,250,300,350,400,450,500,550,600,650,700,750,800,850,900,950,1000],"format":"d","labelExpr":"datum.value%200==0?datum.label:''","labelFlush":true,"labelOverlap":false,"tickSize":3,"labelPadding":3,"title":"Frequency\u00a0\u00a0(Hz)","titleFont":"DejaVu Sans","titleFontSize":8.5,"titleFontWeight":"normal","titleX":-40.4,"titleY":82,"titleAngle":-90,"titleAlign":"center","titleBaseline":"middle"}},"y2":{"field":"f1"}}},
 {"data":{"name":"specks"},"transform":[{"filter":"datum.p==8"}],"mark":{"type":"rect"},"encoding":{"x":{"field":"t0","type":"quantitative","axis":null},"x2":{"field":"t1"},"y":{"field":"f0","type":"quantitative","axis":{"orient":"right","values":[0,50,100,150,200,250,300,350,400,450,500,550,600,650,700,750,800,850,900,950,1000],"labels":false,"tickSize":3,"title":null}},"y2":{"field":"f1"},"color":{"field":"v","type":"ordinal","scale":{"domain":[1,2,3,4,5,6,7],"range":["#0000ff","#0070ff","#00e0ff","#60ff90","#ffff00","#ff9000","#ff0000"]},"legend":null}}},
 {"data":{"name":"panels"},"transform":[{"filter":"datum.p==8"}],"mark":{"type":"text","align":"left","baseline":"middle","fontSize":10,"color":"#c0c0c0"},"encoding":{"x":{"datum":-4.75,"type":"quantitative","axis":null},"y":{"datum":896,"type":"quantitative","axis":null},"text":{"field":"name"}}}
]},
{"width":610,"height":164,"resolve":{"axis":{"x":"independent","y":"independent"}},"layer":[
 {"data":{"name":"gray"},"transform":[{"filter":"datum.p==9"}],"mark":{"type":"rect","color":"#545454"},"encoding":{"x":{"field":"t0","type":"quantitative","scale":{"domain":[0,60],"nice":false,"zero":false},"axis":{"orient":"bottom","values":[0,5,10,15,20,25,30,35,40,45,50,55,60],"labelExpr":"datum.value==0?['17:22:00','10','Jul','2015']:datum.value==60?'23:00':datum.label","offset":16,"tickSize":3.5,"labelPadding":4,"labelLineHeight":9,"labelOverlap":false,"title":null}},"x2":{"field":"t1"},"y":{"field":"f0","type":"quantitative","scale":{"domain":[0,1000],"nice":false},"axis":{"orient":"left","values":[0,50,100,150,200,250,300,350,400,450,500,550,600,650,700,750,800,850,900,950,1000],"format":"d","labelExpr":"datum.value%200==0?datum.label:''","labelFlush":true,"labelOverlap":false,"tickSize":3,"labelPadding":3,"title":"Frequency\u00a0\u00a0(Hz)","titleFont":"DejaVu Sans","titleFontSize":8.5,"titleFontWeight":"normal","titleX":-40.4,"titleY":82,"titleAngle":-90,"titleAlign":"center","titleBaseline":"middle"}},"y2":{"field":"f1"}}},
 {"data":{"name":"specks"},"transform":[{"filter":"datum.p==9"}],"mark":{"type":"rect"},"encoding":{"x":{"field":"t0","type":"quantitative","axis":null},"x2":{"field":"t1"},"y":{"field":"f0","type":"quantitative","axis":{"orient":"right","values":[0,50,100,150,200,250,300,350,400,450,500,550,600,650,700,750,800,850,900,950,1000],"labels":false,"tickSize":3,"title":null}},"y2":{"field":"f1"},"color":{"field":"v","type":"ordinal","scale":{"domain":[1,2,3,4,5,6,7],"range":["#0000ff","#0070ff","#00e0ff","#60ff90","#ffff00","#ff9000","#ff0000"]},"legend":null}}},
 {"data":{"name":"panels"},"transform":[{"filter":"datum.p==9"}],"mark":{"type":"text","align":"left","baseline":"middle","fontSize":10,"color":"#c0c0c0"},"encoding":{"x":{"datum":-4.75,"type":"quantitative","axis":null},"y":{"datum":896,"type":"quantitative","axis":null},"text":{"field":"name"}}}
]},
{"width":610,"height":164,"resolve":{"axis":{"x":"independent","y":"independent"}},"layer":[
 {"data":{"name":"gray"},"transform":[{"filter":"datum.p==10"}],"mark":{"type":"rect","color":"#545454"},"encoding":{"x":{"field":"t0","type":"quantitative","scale":{"domain":[0,60],"nice":false,"zero":false},"axis":{"orient":"bottom","values":[0,5,10,15,20,25,30,35,40,45,50,55,60],"labelExpr":"datum.value==0?['17:23:00','10','Jul','2015']:datum.value==60?'24:00':datum.label","offset":16,"tickSize":3.5,"labelPadding":4,"labelLineHeight":9,"labelOverlap":false,"title":null}},"x2":{"field":"t1"},"y":{"field":"f0","type":"quantitative","scale":{"domain":[0,1000],"nice":false},"axis":{"orient":"left","values":[0,50,100,150,200,250,300,350,400,450,500,550,600,650,700,750,800,850,900,950,1000],"format":"d","labelExpr":"datum.value%200==0?datum.label:''","labelFlush":true,"labelOverlap":false,"tickSize":3,"labelPadding":3,"title":"Frequency\u00a0\u00a0(Hz)","titleFont":"DejaVu Sans","titleFontSize":8.5,"titleFontWeight":"normal","titleX":-40.4,"titleY":82,"titleAngle":-90,"titleAlign":"center","titleBaseline":"middle"}},"y2":{"field":"f1"}}},
 {"data":{"name":"specks"},"transform":[{"filter":"datum.p==10"}],"mark":{"type":"rect"},"encoding":{"x":{"field":"t0","type":"quantitative","axis":null},"x2":{"field":"t1"},"y":{"field":"f0","type":"quantitative","axis":{"orient":"right","values":[0,50,100,150,200,250,300,350,400,450,500,550,600,650,700,750,800,850,900,950,1000],"labels":false,"tickSize":3,"title":null}},"y2":{"field":"f1"},"color":{"field":"v","type":"ordinal","scale":{"domain":[1,2,3,4,5,6,7],"range":["#0000ff","#0070ff","#00e0ff","#60ff90","#ffff00","#ff9000","#ff0000"]},"legend":null}}},
 {"data":{"name":"panels"},"transform":[{"filter":"datum.p==10"}],"mark":{"type":"text","align":"left","baseline":"middle","fontSize":10,"color":"#c0c0c0"},"encoding":{"x":{"datum":-4.75,"type":"quantitative","axis":null},"y":{"datum":896,"type":"quantitative","axis":null},"text":{"field":"name"}}}
]},
{"width":610,"height":164,"resolve":{"axis":{"x":"independent","y":"independent"}},"layer":[
 {"data":{"name":"gray"},"transform":[{"filter":"datum.p==11"}],"mark":{"type":"rect","color":"#545454"},"encoding":{"x":{"field":"t0","type":"quantitative","scale":{"domain":[0,60],"nice":false,"zero":false},"axis":{"orient":"bottom","values":[0,5,10,15,20,25,30,35,40,45,50,55,60],"labelExpr":"datum.value==0?['17:24:00','10','Jul','2015']:datum.value==60?'25:00':datum.label","offset":16,"tickSize":3.5,"labelPadding":4,"labelLineHeight":9,"labelOverlap":false,"title":null}},"x2":{"field":"t1"},"y":{"field":"f0","type":"quantitative","scale":{"domain":[0,1000],"nice":false},"axis":{"orient":"left","values":[0,50,100,150,200,250,300,350,400,450,500,550,600,650,700,750,800,850,900,950,1000],"format":"d","labelExpr":"datum.value%200==0?datum.label:''","labelFlush":true,"labelOverlap":false,"tickSize":3,"labelPadding":3,"title":"Frequency\u00a0\u00a0(Hz)","titleFont":"DejaVu Sans","titleFontSize":8.5,"titleFontWeight":"normal","titleX":-40.4,"titleY":82,"titleAngle":-90,"titleAlign":"center","titleBaseline":"middle"}},"y2":{"field":"f1"}}},
 {"data":{"name":"specks"},"transform":[{"filter":"datum.p==11"}],"mark":{"type":"rect"},"encoding":{"x":{"field":"t0","type":"quantitative","axis":null},"x2":{"field":"t1"},"y":{"field":"f0","type":"quantitative","axis":{"orient":"right","values":[0,50,100,150,200,250,300,350,400,450,500,550,600,650,700,750,800,850,900,950,1000],"labels":false,"tickSize":3,"title":null}},"y2":{"field":"f1"},"color":{"field":"v","type":"ordinal","scale":{"domain":[1,2,3,4,5,6,7],"range":["#0000ff","#0070ff","#00e0ff","#60ff90","#ffff00","#ff9000","#ff0000"]},"legend":null}}},
 {"data":{"name":"panels"},"transform":[{"filter":"datum.p==11"}],"mark":{"type":"text","align":"left","baseline":"middle","fontSize":10,"color":"#c0c0c0"},"encoding":{"x":{"datum":-4.75,"type":"quantitative","axis":null},"y":{"datum":896,"type":"quantitative","axis":null},"text":{"field":"name"}}}
]},
{"width":610,"height":164,"resolve":{"axis":{"x":"independent","y":"independent"}},"layer":[
 {"data":{"name":"gray"},"transform":[{"filter":"datum.p==12"}],"mark":{"type":"rect","color":"#545454"},"encoding":{"x":{"field":"t0","type":"quantitative","scale":{"domain":[0,60],"nice":false,"zero":false},"axis":{"orient":"bottom","values":[0,5,10,15,20,25,30,35,40,45,50,55,60],"labelExpr":"datum.value==0?['17:25:00','10','Jul','2015']:datum.value==60?'26:00':datum.label","offset":16,"tickSize":3.5,"labelPadding":4,"labelLineHeight":9,"labelOverlap":false,"title":null}},"x2":{"field":"t1"},"y":{"field":"f0","type":"quantitative","scale":{"domain":[0,1000],"nice":false},"axis":{"orient":"left","values":[0,50,100,150,200,250,300,350,400,450,500,550,600,650,700,750,800,850,900,950,1000],"format":"d","labelExpr":"datum.value%200==0?datum.label:''","labelFlush":true,"labelOverlap":false,"tickSize":3,"labelPadding":3,"title":"Frequency\u00a0\u00a0(Hz)","titleFont":"DejaVu Sans","titleFontSize":8.5,"titleFontWeight":"normal","titleX":-40.4,"titleY":82,"titleAngle":-90,"titleAlign":"center","titleBaseline":"middle"}},"y2":{"field":"f1"}}},
 {"data":{"name":"specks"},"transform":[{"filter":"datum.p==12"}],"mark":{"type":"rect"},"encoding":{"x":{"field":"t0","type":"quantitative","axis":null},"x2":{"field":"t1"},"y":{"field":"f0","type":"quantitative","axis":{"orient":"right","values":[0,50,100,150,200,250,300,350,400,450,500,550,600,650,700,750,800,850,900,950,1000],"labels":false,"tickSize":3,"title":null}},"y2":{"field":"f1"},"color":{"field":"v","type":"ordinal","scale":{"domain":[1,2,3,4,5,6,7],"range":["#0000ff","#0070ff","#00e0ff","#60ff90","#ffff00","#ff9000","#ff0000"]},"legend":null}}},
 {"data":{"name":"panels"},"transform":[{"filter":"datum.p==12"}],"mark":{"type":"text","align":"left","baseline":"middle","fontSize":10,"color":"#c0c0c0"},"encoding":{"x":{"datum":-4.75,"type":"quantitative","axis":null},"y":{"datum":896,"type":"quantitative","axis":null},"text":{"field":"name"}}}
]},
{"width":610,"height":164,"resolve":{"axis":{"x":"independent","y":"independent"}},"layer":[
 {"data":{"name":"gray"},"transform":[{"filter":"datum.p==13"}],"mark":{"type":"rect","color":"#545454"},"encoding":{"x":{"field":"t0","type":"quantitative","scale":{"domain":[0,60],"nice":false,"zero":false},"axis":{"orient":"bottom","values":[0,5,10,15,20,25,30,35,40,45,50,55,60],"labelExpr":"datum.value==0?['17:26:00','10','Jul','2015']:datum.value==60?'27:00':datum.label","offset":16,"tickSize":3.5,"labelPadding":4,"labelLineHeight":9,"labelOverlap":false,"title":null}},"x2":{"field":"t1"},"y":{"field":"f0","type":"quantitative","scale":{"domain":[0,1000],"nice":false},"axis":{"orient":"left","values":[0,50,100,150,200,250,300,350,400,450,500,550,600,650,700,750,800,850,900,950,1000],"format":"d","labelExpr":"datum.value%200==0?datum.label:''","labelFlush":true,"labelOverlap":false,"tickSize":3,"labelPadding":3,"title":"Frequency\u00a0\u00a0(Hz)","titleFont":"DejaVu Sans","titleFontSize":8.5,"titleFontWeight":"normal","titleX":-40.4,"titleY":82,"titleAngle":-90,"titleAlign":"center","titleBaseline":"middle"}},"y2":{"field":"f1"}}},
 {"data":{"name":"specks"},"transform":[{"filter":"datum.p==13"}],"mark":{"type":"rect"},"encoding":{"x":{"field":"t0","type":"quantitative","axis":null},"x2":{"field":"t1"},"y":{"field":"f0","type":"quantitative","axis":{"orient":"right","values":[0,50,100,150,200,250,300,350,400,450,500,550,600,650,700,750,800,850,900,950,1000],"labels":false,"tickSize":3,"title":null}},"y2":{"field":"f1"},"color":{"field":"v","type":"ordinal","scale":{"domain":[1,2,3,4,5,6,7],"range":["#0000ff","#0070ff","#00e0ff","#60ff90","#ffff00","#ff9000","#ff0000"]},"legend":null}}},
 {"data":{"name":"panels"},"transform":[{"filter":"datum.p==13"}],"mark":{"type":"text","align":"left","baseline":"middle","fontSize":10,"color":"#c0c0c0"},"encoding":{"x":{"datum":-4.75,"type":"quantitative","axis":null},"y":{"datum":896,"type":"quantitative","axis":null},"text":{"field":"name"}}}
]},
{"width":610,"height":164,"resolve":{"axis":{"x":"independent","y":"independent"}},"layer":[
 {"data":{"name":"gray"},"transform":[{"filter":"datum.p==14"}],"mark":{"type":"rect","color":"#545454"},"encoding":{"x":{"field":"t0","type":"quantitative","scale":{"domain":[0,60],"nice":false,"zero":false},"axis":{"orient":"bottom","values":[0,5,10,15,20,25,30,35,40,45,50,55,60],"labelExpr":"datum.value==0?['17:27:00','10','Jul','2015']:datum.value==60?'28:00':datum.label","offset":16,"tickSize":3.5,"labelPadding":4,"labelLineHeight":9,"labelOverlap":false,"title":null}},"x2":{"field":"t1"},"y":{"field":"f0","type":"quantitative","scale":{"domain":[0,1000],"nice":false},"axis":{"orient":"left","values":[0,50,100,150,200,250,300,350,400,450,500,550,600,650,700,750,800,850,900,950,1000],"format":"d","labelExpr":"datum.value%200==0?datum.label:''","labelFlush":true,"labelOverlap":false,"tickSize":3,"labelPadding":3,"title":"Frequency\u00a0\u00a0(Hz)","titleFont":"DejaVu Sans","titleFontSize":8.5,"titleFontWeight":"normal","titleX":-40.4,"titleY":82,"titleAngle":-90,"titleAlign":"center","titleBaseline":"middle"}},"y2":{"field":"f1"}}},
 {"data":{"name":"specks"},"transform":[{"filter":"datum.p==14"}],"mark":{"type":"rect"},"encoding":{"x":{"field":"t0","type":"quantitative","axis":null},"x2":{"field":"t1"},"y":{"field":"f0","type":"quantitative","axis":{"orient":"right","values":[0,50,100,150,200,250,300,350,400,450,500,550,600,650,700,750,800,850,900,950,1000],"labels":false,"tickSize":3,"title":null}},"y2":{"field":"f1"},"color":{"field":"v","type":"ordinal","scale":{"domain":[1,2,3,4,5,6,7],"range":["#0000ff","#0070ff","#00e0ff","#60ff90","#ffff00","#ff9000","#ff0000"]},"legend":null}}},
 {"data":{"name":"panels"},"transform":[{"filter":"datum.p==14"}],"mark":{"type":"text","align":"left","baseline":"middle","fontSize":10,"color":"#c0c0c0"},"encoding":{"x":{"datum":-4.75,"type":"quantitative","axis":null},"y":{"datum":896,"type":"quantitative","axis":null},"text":{"field":"name"}}}
]},
{"width":610,"height":164,"resolve":{"axis":{"x":"independent","y":"independent"}},"layer":[
 {"data":{"name":"gray"},"transform":[{"filter":"datum.p==15"}],"mark":{"type":"rect","color":"#545454"},"encoding":{"x":{"field":"t0","type":"quantitative","scale":{"domain":[0,60],"nice":false,"zero":false},"axis":{"orient":"bottom","values":[0,5,10,15,20,25,30,35,40,45,50,55,60],"labelExpr":"datum.value==0?['17:28:00','10','Jul','2015']:datum.value==60?'29:00':datum.label","offset":16,"tickSize":3.5,"labelPadding":4,"labelLineHeight":9,"labelOverlap":false,"title":null}},"x2":{"field":"t1"},"y":{"field":"f0","type":"quantitative","scale":{"domain":[0,1000],"nice":false},"axis":{"orient":"left","values":[0,50,100,150,200,250,300,350,400,450,500,550,600,650,700,750,800,850,900,950,1000],"format":"d","labelExpr":"datum.value%200==0?datum.label:''","labelFlush":true,"labelOverlap":false,"tickSize":3,"labelPadding":3,"title":"Frequency\u00a0\u00a0(Hz)","titleFont":"DejaVu Sans","titleFontSize":8.5,"titleFontWeight":"normal","titleX":-40.4,"titleY":82,"titleAngle":-90,"titleAlign":"center","titleBaseline":"middle"}},"y2":{"field":"f1"}}},
 {"data":{"name":"specks"},"transform":[{"filter":"datum.p==15"}],"mark":{"type":"rect"},"encoding":{"x":{"field":"t0","type":"quantitative","axis":null},"x2":{"field":"t1"},"y":{"field":"f0","type":"quantitative","axis":{"orient":"right","values":[0,50,100,150,200,250,300,350,400,450,500,550,600,650,700,750,800,850,900,950,1000],"labels":false,"tickSize":3,"title":null}},"y2":{"field":"f1"},"color":{"field":"v","type":"ordinal","scale":{"domain":[1,2,3,4,5,6,7],"range":["#0000ff","#0070ff","#00e0ff","#60ff90","#ffff00","#ff9000","#ff0000"]},"legend":null}}},
 {"data":{"name":"panels"},"transform":[{"filter":"datum.p==15"}],"mark":{"type":"text","align":"left","baseline":"middle","fontSize":10,"color":"#c0c0c0"},"encoding":{"x":{"datum":-4.75,"type":"quantitative","axis":null},"y":{"datum":896,"type":"quantitative","axis":null},"text":{"field":"name"}}}
]},
{"width":610,"height":164,"resolve":{"axis":{"x":"independent","y":"independent"}},"layer":[
 {"data":{"name":"gray"},"transform":[{"filter":"datum.p==16"}],"mark":{"type":"rect","color":"#545454"},"encoding":{"x":{"field":"t0","type":"quantitative","scale":{"domain":[0,60],"nice":false,"zero":false},"axis":{"orient":"bottom","values":[0,5,10,15,20,25,30,35,40,45,50,55,60],"labelExpr":"datum.value==0?['17:29:00','10','Jul','2015']:datum.value==60?'30:00':datum.label","offset":16,"tickSize":3.5,"labelPadding":4,"labelLineHeight":9,"labelOverlap":false,"title":null}},"x2":{"field":"t1"},"y":{"field":"f0","type":"quantitative","scale":{"domain":[0,1000],"nice":false},"axis":{"orient":"left","values":[0,50,100,150,200,250,300,350,400,450,500,550,600,650,700,750,800,850,900,950,1000],"format":"d","labelExpr":"datum.value%200==0?datum.label:''","labelFlush":true,"labelOverlap":false,"tickSize":3,"labelPadding":3,"title":"Frequency\u00a0\u00a0(Hz)","titleFont":"DejaVu Sans","titleFontSize":8.5,"titleFontWeight":"normal","titleX":-40.4,"titleY":82,"titleAngle":-90,"titleAlign":"center","titleBaseline":"middle"}},"y2":{"field":"f1"}}},
 {"data":{"name":"specks"},"transform":[{"filter":"datum.p==16"}],"mark":{"type":"rect"},"encoding":{"x":{"field":"t0","type":"quantitative","axis":null},"x2":{"field":"t1"},"y":{"field":"f0","type":"quantitative","axis":{"orient":"right","values":[0,50,100,150,200,250,300,350,400,450,500,550,600,650,700,750,800,850,900,950,1000],"labels":false,"tickSize":3,"title":null}},"y2":{"field":"f1"},"color":{"field":"v","type":"ordinal","scale":{"domain":[1,2,3,4,5,6,7],"range":["#0000ff","#0070ff","#00e0ff","#60ff90","#ffff00","#ff9000","#ff0000"]},"legend":null}}},
 {"data":{"name":"events"},"transform":[{"filter":"datum.p==16"}],"mark":{"type":"rule","color":"#ffffff","strokeDash":[5,3],"strokeWidth":1.4},"encoding":{"x":{"field":"t","type":"quantitative","axis":null},"y":{"datum":25,"type":"quantitative","axis":null},"y2":{"datum":1000}}},
 {"data":{"name":"events"},"transform":[{"filter":"datum.p==16"}],"mark":{"type":"text","color":"#ffffff","fontSize":6.5,"baseline":"alphabetic","dy":-10},"encoding":{"x":{"field":"t","type":"quantitative","axis":null},"y":{"datum":1000,"type":"quantitative","axis":null},"text":{"field":"label"}}},
 {"data":{"name":"panels"},"transform":[{"filter":"datum.p==16"}],"mark":{"type":"text","align":"left","baseline":"middle","fontSize":10,"color":"#c0c0c0"},"encoding":{"x":{"datum":-4.75,"type":"quantitative","axis":null},"y":{"datum":896,"type":"quantitative","axis":null},"text":{"field":"name"}}}
]},
{"width":610,"height":164,"resolve":{"axis":{"x":"independent","y":"independent"}},"layer":[
 {"data":{"name":"gray"},"transform":[{"filter":"datum.p==17"}],"mark":{"type":"rect","color":"#545454"},"encoding":{"x":{"field":"t0","type":"quantitative","scale":{"domain":[0,60],"nice":false,"zero":false},"axis":{"orient":"bottom","values":[0,5,10,15,20,25,30,35,40,45,50,55,60],"labelExpr":"datum.value==0?['17:30:00','10','Jul','2015']:datum.value==60?'31:00':datum.label","offset":16,"tickSize":3.5,"labelPadding":4,"labelLineHeight":9,"labelOverlap":false,"title":null}},"x2":{"field":"t1"},"y":{"field":"f0","type":"quantitative","scale":{"domain":[0,1000],"nice":false},"axis":{"orient":"left","values":[0,50,100,150,200,250,300,350,400,450,500,550,600,650,700,750,800,850,900,950,1000],"format":"d","labelExpr":"datum.value%200==0?datum.label:''","labelFlush":true,"labelOverlap":false,"tickSize":3,"labelPadding":3,"title":"Frequency\u00a0\u00a0(Hz)","titleFont":"DejaVu Sans","titleFontSize":8.5,"titleFontWeight":"normal","titleX":-40.4,"titleY":82,"titleAngle":-90,"titleAlign":"center","titleBaseline":"middle"}},"y2":{"field":"f1"}}},
 {"data":{"name":"specks"},"transform":[{"filter":"datum.p==17"}],"mark":{"type":"rect"},"encoding":{"x":{"field":"t0","type":"quantitative","axis":null},"x2":{"field":"t1"},"y":{"field":"f0","type":"quantitative","axis":{"orient":"right","values":[0,50,100,150,200,250,300,350,400,450,500,550,600,650,700,750,800,850,900,950,1000],"labels":false,"tickSize":3,"title":null}},"y2":{"field":"f1"},"color":{"field":"v","type":"ordinal","scale":{"domain":[1,2,3,4,5,6,7],"range":["#0000ff","#0070ff","#00e0ff","#60ff90","#ffff00","#ff9000","#ff0000"]},"legend":null}}},
 {"data":{"name":"panels"},"transform":[{"filter":"datum.p==17"}],"mark":{"type":"text","align":"left","baseline":"middle","fontSize":10,"color":"#c0c0c0"},"encoding":{"x":{"datum":-4.75,"type":"quantitative","axis":null},"y":{"datum":896,"type":"quantitative","axis":null},"text":{"field":"name"}}}
]}
]}
